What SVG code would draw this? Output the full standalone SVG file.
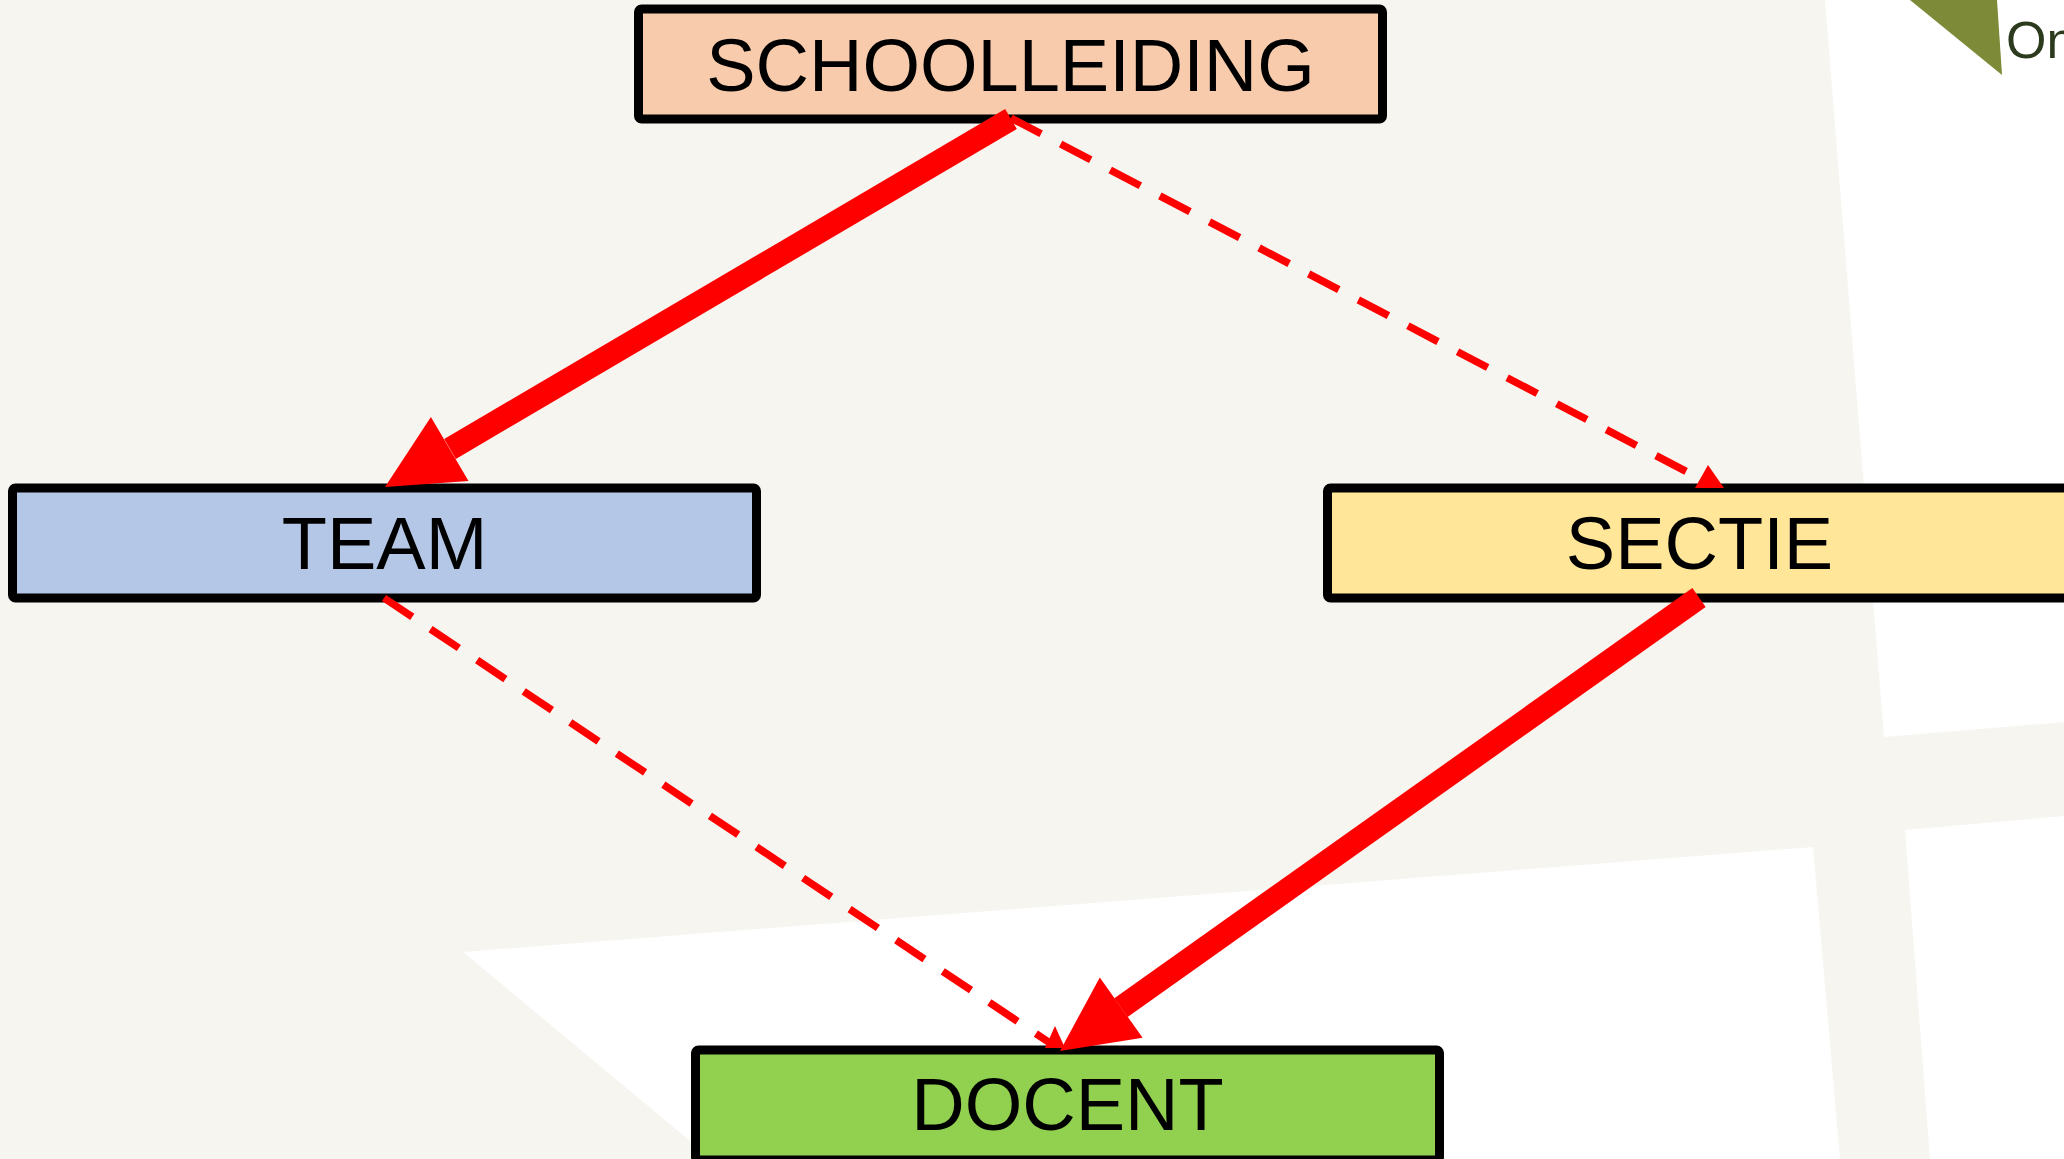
<svg xmlns="http://www.w3.org/2000/svg" width="2064" height="1159" viewBox="0 0 2064 1159">
  <style>
    .box { stroke: #000; stroke-width: 9; }
    .label { font-family: "Liberation Sans", Arial, sans-serif; font-size: 74px; fill: #000; text-anchor: middle; }
    .solid { stroke: #ff0000; stroke-width: 23; stroke-linecap: butt; fill: none; }
    .dashed { stroke: #ff0000; stroke-width: 7.5; stroke-dasharray: 34 22; stroke-linecap: butt; fill: none; }
    .head { fill: #ff0000; }
  </style>

  <!-- map backdrop -->
  <g id="backdrop">
    <rect x="0" y="0" width="2064" height="1159" fill="#f6f5f0"/>
    <polygon points="1825,0 2064,0 2064,722 1884,737" fill="#ffffff"/>
    <polygon points="1905,830 2064,816 2064,1159 1930,1159" fill="#ffffff"/>
    <polygon points="463,952 1813,847 1840,1159 712,1159" fill="#ffffff"/>
    <polygon points="1910,0 1997,0 2002,75" fill="#7d8a37"/>
    <text x="2006" y="58" font-family="Liberation Sans, Arial, sans-serif" font-size="52" fill="#2c3a1e">On</text>
  </g>

  <!-- nodes -->
  <g id="schoolleiding">
    <rect class="box" x="638.5" y="9" width="744" height="110" rx="3" fill="#f8cbad"/>
    <text class="label" x="1010.5" y="91">SCHOOLLEIDING</text>
  </g>
  <g id="team">
    <rect class="box" x="12.5" y="488" width="744" height="110" rx="3" fill="#b4c7e7"/>
    <text class="label" x="384.5" y="569">TEAM</text>
  </g>
  <g id="sectie">
    <rect class="box" x="1327.5" y="488" width="744" height="110" rx="3" fill="#ffe699"/>
    <text class="label" x="1699.5" y="569">SECTIE</text>
  </g>
  <g id="docent">
    <rect class="box" x="695.5" y="1050" width="744" height="110" rx="3" fill="#92d050"/>
    <text class="label" x="1067.5" y="1130">DOCENT</text>
  </g>

  <!-- connectors -->
  <g id="connectors">
    <!-- SCHOOLLEIDING -> TEAM -->
    <line class="solid" x1="1011" y1="119" x2="450" y2="449"/>
    <polygon class="head" points="385,487 468.5,480.9 430.9,417.1"/>
    <!-- SCHOOLLEIDING -> SECTIE -->
    <line class="dashed" x1="1011" y1="118" x2="1712" y2="485"/>
    <polygon class="head" points="1708,465 1724,488 1695,488"/>
    <!-- TEAM -> DOCENT -->
    <line class="dashed" x1="384" y1="598" x2="1050" y2="1043"/>
    <polygon class="head" points="1055,1026 1065,1048 1045,1048"/>
    <!-- SECTIE -> DOCENT -->
    <line class="solid" x1="1699" y1="597.5" x2="1121" y2="1007.6"/>
    <polygon class="head" points="1060,1051 1142.6,1037.8 1099.8,977.4"/>
  </g>
</svg>
